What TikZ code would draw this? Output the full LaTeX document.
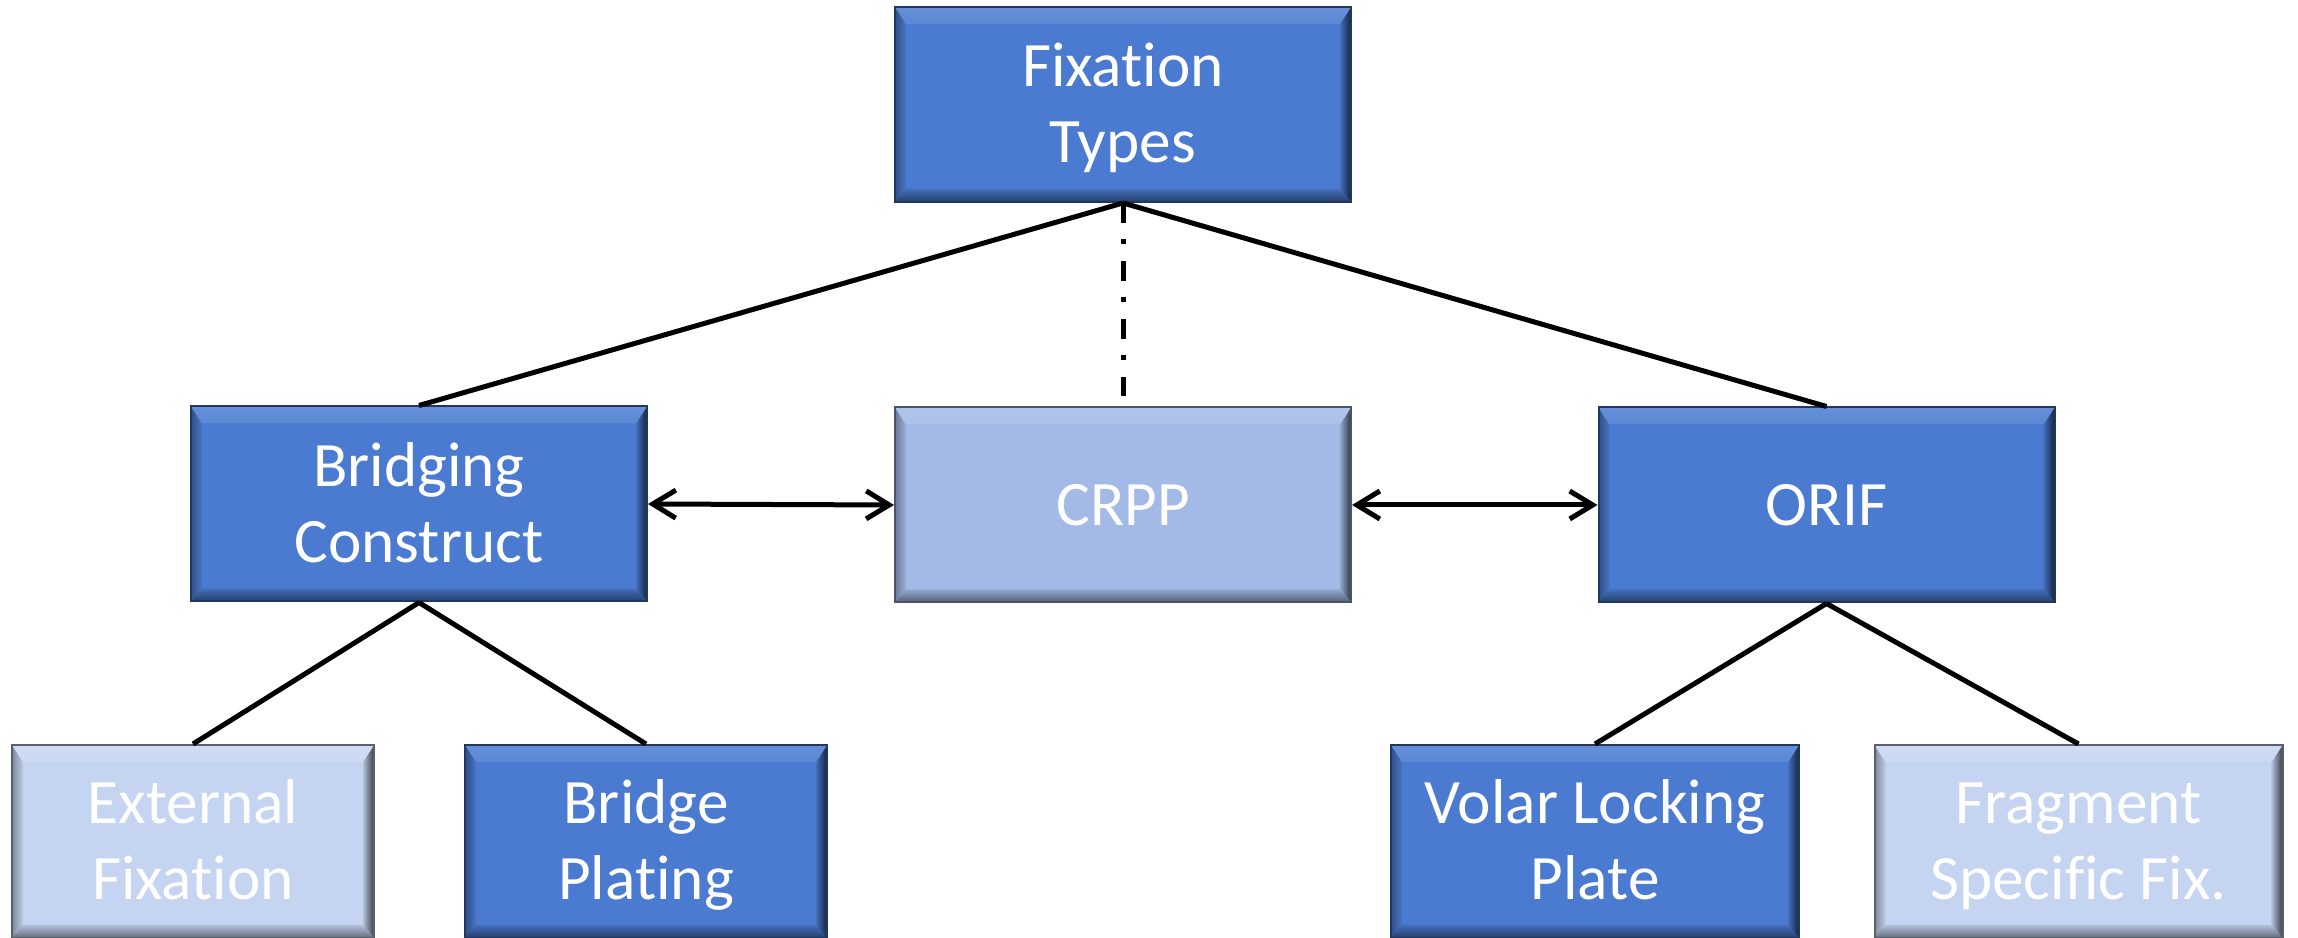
\documentclass[tikz,border=0pt]{standalone}
\usepackage{fontspec}
\setmainfont{Carlito}[Ligatures=NoCommon]
\usetikzlibrary{arrows.meta,calc}
\definecolor{dkblue}{HTML}{4A7BD0}
\definecolor{mdblue}{HTML}{A3BAE7}
\definecolor{ltblue}{HTML}{C5D5F1}

% text lines with fixed ascent and descent, so that every box centres alike
\newcommand{\toprule}{\rule{0pt}{16.6pt}}
\newcommand{\botrule}{\rule[-5pt]{0pt}{5pt}}

\tikzset{
  bevel/.style={
    fill=#1, draw=black!55!#1, line width=0.2mm,
    path picture={
      \path (path picture bounding box.north west) coordinate (pnw)
            (path picture bounding box.south east) coordinate (pse);
      \coordinate (pne) at (pnw -| pse);
      \coordinate (psw) at (pnw |- pse);
      \coordinate (inw) at ($(pnw)+(1.1mm,-1.7mm)$);
      \coordinate (ine) at ($(pne)+(-1.1mm,-1.7mm)$);
      \coordinate (isw) at ($(psw)+(1.1mm,1.3mm)$);
      \coordinate (ise) at ($(pse)+(-1.1mm,1.3mm)$);
      % left and right faces
      \shade[left color=black!35!#1, right color=black!5!#1]
        (pnw) -- (inw) -- (isw) -- (psw) -- cycle;
      \shade[left color=black!10!#1, right color=black!70!#1]
        (pne) -- (ine) -- (ise) -- (pse) -- cycle;
      % lit top face
      \shade[top color=white!15!#1, middle color=white!45!#1, bottom color=white!10!#1]
        (pnw) -- (pne) -- (ine) -- (inw) -- cycle;
      % shaded bottom face
      \shade[top color=black!10!#1, bottom color=black!50!#1]
        (isw) -- (ise) -- (pse) -- (psw) -- cycle;
    }
  },
  box/.style={
    bevel=#1, text=white, align=center, inner sep=0pt,
    minimum width=45.6mm, minimum height=19.5mm,
    font=\fontsize{18}{21.6}\selectfont
  },
  leaf/.style={box=#1, minimum width=36.2mm, minimum height=19.3mm},
  wideleaf/.style={box=#1, minimum width=40.8mm, minimum height=19.3mm},
  link/.style={line width=0.5mm, black},
  tie/.style={link, {Straight Barb[length=2.3mm,width=2.8mm]}-{Straight Barb[length=2.3mm,width=2.8mm]}},
  weak/.style={link, dash pattern=on 2mm off 1.6mm on 0.5mm off 1.7mm}
}

\begin{document}
\begin{tikzpicture}[x=0.1mm, y=-0.1mm]
  \useasboundingbox (0,0) rectangle (2298,938);

  \node[box=dkblue] (fix) at (1123,104.5) {\toprule Fixation\\Types\botrule};
  \node[box=dkblue] (bc) at (419,504) {\toprule Bridging\\Construct\botrule};
  \node[box=mdblue] (crpp) at (1123,505) {\toprule CRPP\botrule};
  \node[box=dkblue] (orif) at (1826.5,505) {\toprule ORIF\botrule};

  \node[leaf=ltblue] (ext) at (193,841.5) {\toprule External\\Fixation\botrule};
  \node[leaf=dkblue] (bp) at (646,841.5) {\toprule Bridge\\Plating\botrule};
  \node[wideleaf=dkblue] (vlp) at (1595,841.5) {\toprule Volar Locking\\Plate\botrule};
  \node[wideleaf=ltblue] (fsf) at (2078.5,841.5) {\toprule Fragment\\Specific Fix.\botrule};

  \coordinate (crpptop) at ($(crpp.north)+(0,1mm)$);

  \draw[link] (fix.south) -- (bc.north);
  \draw[link] (fix.south) -- (orif.north);
  \draw[weak] (fix.south) -- (crpptop);

  \draw[tie] (bc.east) -- (crpp.west);
  \draw[tie] (crpp.east) -- (orif.west);

  \draw[link] (bc.south) -- (ext.north);
  \draw[link] (bc.south) -- (bp.north);
  \draw[link] (orif.south) -- (vlp.north);
  \draw[link] (orif.south) -- (fsf.north);
\end{tikzpicture}
\end{document}
